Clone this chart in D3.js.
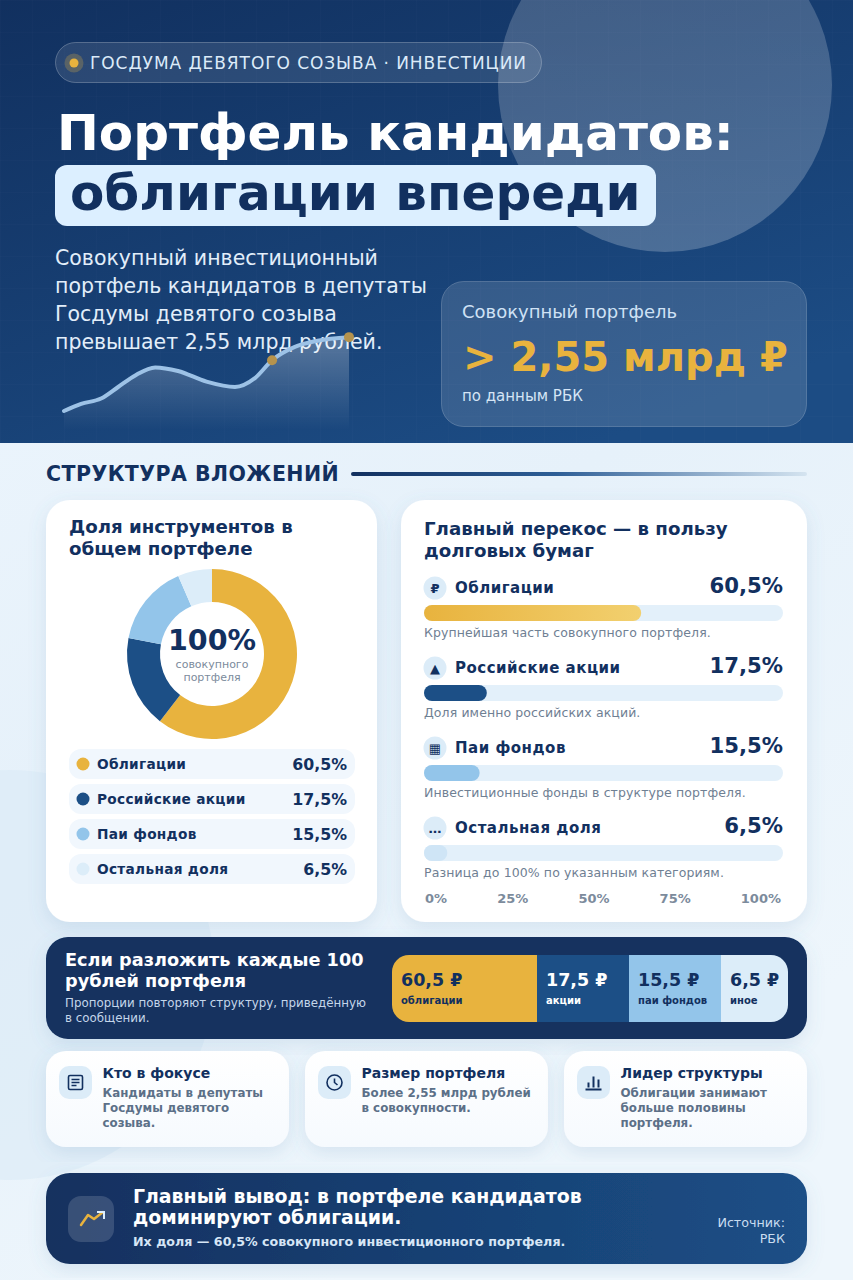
<!DOCTYPE html>
<html lang="ru">
<head>
<meta charset="utf-8">
<title>Портфель кандидатов</title>
<script src="https://cdn.jsdelivr.net/npm/d3@7"></script>
<style>
  html, body { margin: 0; padding: 0; background: #eef6fd; }
  svg { display: block; }
  text { font-family: "DejaVu Sans", sans-serif; }
  .b { font-weight: 700; }
</style>
</head>
<body>
<svg id="chart" width="853" height="1280" viewBox="0 0 853 1280"></svg>
<script>
// Values
var instruments = ["Облигации", "Российские акции", "Паи фондов", "Остальная доля"];
var shares = [60.5, 17.5, 15.5, 6.5];
var shareLabels = ["60,5%", "17,5%", "15,5%", "6,5%"];
var shareNotes = [
  "Крупнейшая часть совокупного портфеля.",
  "Доля именно российских акций.",
  "Инвестиционные фонды в структуре портфеля.",
  "Разница до 100% по указанным категориям."
];
var rowGlyphs = ["₽", "▲", "▦", "…"];
var axisTicks = ["0%", "25%", "50%", "75%", "100%"];
var rubleLabels = ["60,5 ₽", "17,5 ₽", "15,5 ₽", "6,5 ₽"];
var rubleNames = ["облигации", "акции", "паи фондов", "иное"];
// decorative curve in the header, relative units
var sparkSteps = [0, 6, 13, 19, 25, 32, 40, 50, 60, 67, 73, 81, 89, 100];
var sparkValues = [0, 8, 14, 27, 40, 49, 45, 33, 27, 37, 57, 72, 79, 83];
var facts = [
  { title: "Кто в фокусе", lines: ["Кандидаты в депутаты", "Госдумы девятого", "созыва."] },
  { title: "Размер портфеля", lines: ["Более 2,55 млрд рублей", "в совокупности."] },
  { title: "Лидер структуры", lines: ["Облигации занимают", "больше половины", "портфеля."] }
];

var navy = "#12305f", gold = "#e8b33e", gray = "#6f8093";
var color = d3.scaleOrdinal().domain(instruments).range([gold, "#1c4f86", "#93c5ea", "#dcedf9"]);
var svg = d3.select("#chart");
var defs = svg.append("defs");

function gradient(id, stops, x2, y2) {
  var g = defs.append("linearGradient").attr("id", id)
    .attr("x1", 0).attr("y1", 0).attr("x2", x2).attr("y2", y2);
  stops.forEach(function(s) {
    g.append("stop").attr("offset", s[0]).attr("stop-color", s[1]).attr("stop-opacity", s[2] === undefined ? 1 : s[2]);
  });
}
gradient("heroBg", [[0, "#11305f"], [1, "#1c4c84"]], 0.7, 1);
gradient("pageBg", [[0, "#eff7fe"], [0.55, "#e6f1fa"], [1, "#eef6fc"]], 0.4, 1);
gradient("blob", [[0, "#ffffff", 0.18], [1, "#ffffff", 0.22]], 0, 1);
gradient("sparkFill", [[0, "#ffffff", 0.28], [1, "#ffffff", 0]], 0, 1);
gradient("rule", [[0, navy], [0.45, "#2d5e96"], [1, "#d5e4f0"]], 1, 0);
gradient("goldBar", [[0, "#e8b33e"], [1, "#f2d06f"]], 1, 0);
gradient("banner", [[0, navy], [1, "#1c4f86"]], 1, 0);
gradient("factBg", [[0, "#ffffff"], [1, "#f6fafe"]], 0, 1);

var shadow = defs.append("filter").attr("id", "shadow")
  .attr("x", "-10%").attr("y", "-10%").attr("width", "120%").attr("height", "125%");
shadow.append("feDropShadow").attr("dx", 0).attr("dy", 6).attr("stdDeviation", 9)
  .attr("flood-color", "#5b86b0").attr("flood-opacity", 0.16);

var grid = defs.append("pattern").attr("id", "grid").attr("patternUnits", "userSpaceOnUse")
  .attr("width", 32).attr("height", 32);
grid.append("path").attr("d", "M32,0H0V32").attr("fill", "none")
  .attr("stroke", "#ffffff").attr("stroke-opacity", 0.025);

function rect(parent, x, y, w, h, r, fill) {
  return parent.append("rect").attr("x", x).attr("y", y).attr("width", w).attr("height", h)
    .attr("rx", r).attr("ry", r).attr("fill", fill);
}
function label(parent, str, x, y, size, fill, bold, anchor, spacing) {
  return parent.append("text").attr("x", x).attr("y", y).attr("font-size", size).attr("fill", fill)
    .attr("class", bold ? "b" : null).attr("text-anchor", anchor || "start")
    .attr("letter-spacing", spacing || null).text(str);
}
function lines(parent, list, x, y, step, size, fill, bold, anchor, spacing) {
  list.forEach(function(str, i) {
    label(parent, str, x, y + i * step, size, fill, bold, anchor, spacing);
  });
}

// Page background with the soft circles behind the cards
rect(svg, 0, 0, 853, 1280, 0, "url(#pageBg)");
svg.append("circle").attr("cx", 10).attr("cy", 975).attr("r", 205).attr("fill", "#d9e9f5").attr("opacity", 0.55);

// ---- Header ----
var hero = svg.append("g");
rect(hero, 0, 0, 853, 443, 0, "url(#heroBg)");
rect(hero, 0, 0, 853, 443, 0, "url(#grid)");
hero.append("circle").attr("cx", 665).attr("cy", 85).attr("r", 167).attr("fill", "url(#blob)");

rect(hero, 55.5, 42.5, 486, 40, 20, "#ffffff").attr("fill-opacity", 0.1)
  .attr("stroke", "#ffffff").attr("stroke-opacity", 0.25);
hero.append("circle").attr("cx", 74).attr("cy", 63).attr("r", 9.5).attr("fill", gold).attr("opacity", 0.25);
hero.append("circle").attr("cx", 74).attr("cy", 63).attr("r", 4.5).attr("fill", gold);
label(hero, "ГОСДУМА ДЕВЯТОГО СОЗЫВА · ИНВЕСТИЦИИ", 90, 69, 17, "#dcebf9", false, "start", 0.93);

label(hero, "Портфель кандидатов:", 57, 150, 50, "#ffffff", true);
rect(hero, 55, 165, 601, 61, 12, "#dcefff");
label(hero, "облигации впереди", 70, 210, 50, navy, true);

lines(hero, ["Совокупный инвестиционный", "портфель кандидатов в депутаты", "Госдумы девятого созыва", "превышает 2,55 млрд рублей."],
  55, 265, 28, 20.5, "#e2eefa");

// curve
var sparkX = d3.scaleLinear().domain([0, 100]).range([64, 349]);
var sparkY = d3.scaleLinear().domain([0, 100]).range([411, 322]);
var sparkBase = 430;
var sparkArea = d3.area().x(function(d) { return sparkX(d[0]); }).y0(sparkBase)
  .y1(function(d) { return sparkY(d[1]); }).curve(d3.curveMonotoneX);
var sparkLine = sparkArea.lineY1();
var sparkData = d3.zip(sparkSteps, sparkValues);
hero.append("path").datum(sparkData).attr("d", sparkArea).attr("fill", "url(#sparkFill)");
hero.append("path").datum(sparkData).attr("d", sparkLine).attr("fill", "none")
  .attr("stroke", "#9dc2e6").attr("stroke-width", 4).attr("stroke-linecap", "round");
hero.selectAll("circle.mark").data([sparkData[10], sparkData[13]]).enter().append("circle")
  .attr("class", "mark")
  .attr("cx", function(d) { return sparkX(d[0]); })
  .attr("cy", function(d) { return sparkY(d[1]); })
  .attr("r", 5).attr("fill", "#b5934d");

// total card
rect(hero, 441.5, 281.5, 365, 145, 22, "#ffffff").attr("fill-opacity", 0.13)
  .attr("stroke", "#ffffff").attr("stroke-opacity", 0.2);
label(hero, "Совокупный портфель", 462, 318, 18, "#cfe2f5");
label(hero, "> 2,55 млрд ₽", 463, 371, 40, gold, true);
label(hero, "по данным РБК", 462, 401, 15, "#d5e5f5");

// ---- Section title ----
label(svg, "СТРУКТУРА ВЛОЖЕНИЙ", 46, 481, 20.5, navy, true, "start", 0.45);
rect(svg, 351, 472, 456, 4, 2, "url(#rule)");

// ---- Donut card ----
var left = svg.append("g");
rect(left, 46, 500, 331, 422, 24, "#ffffff").attr("filter", "url(#shadow)");
lines(left, ["Доля инструментов в", "общем портфеле"], 69, 533, 22, 18.2, navy, true);

var pie = d3.pie().sort(null).value(function(d) { return d.value; });
var arc = d3.arc().innerRadius(52).outerRadius(85);
var donutData = instruments.map(function(name, i) { return { name: name, value: shares[i] }; });
var donut = left.append("g").attr("transform", "translate(212,654)");
donut.selectAll("path").data(pie(donutData)).enter().append("path")
  .attr("d", arc)
  .attr("fill", function(d) { return color(d.data.name); });
label(donut, "100%", 0, -4, 28.5, navy, true, "middle");
lines(donut, ["совокупного", "портфеля"], 0, 14, 13, 11, "#7c8b9c", false, "middle");

var legendY = d3.scalePoint().domain(instruments).range([764, 869]);
var legend = left.selectAll("g.legend").data(donutData).enter().append("g").attr("class", "legend")
  .attr("transform", function(d) { return "translate(0," + legendY(d.name) + ")"; });
legend.append("rect").attr("x", 69).attr("y", -15).attr("width", 286).attr("height", 30)
  .attr("rx", 12).attr("fill", "#f1f7fd");
legend.append("circle").attr("cx", 83).attr("cy", 0).attr("r", 6.5)
  .attr("fill", function(d) { return color(d.name); });
legend.append("text").attr("x", 97).attr("y", 5).attr("class", "b").attr("font-size", 13.7)
  .attr("letter-spacing", 0.3).attr("fill", navy).text(function(d) { return d.name; });
legend.append("text").attr("x", 347).attr("y", 6).attr("class", "b").attr("font-size", 15.8)
  .attr("text-anchor", "end").attr("fill", navy).text(function(d, i) { return shareLabels[i]; });

// ---- Bars card ----
var right = svg.append("g");
rect(right, 401, 500, 406, 422, 24, "#ffffff").attr("filter", "url(#shadow)");
lines(right, ["Главный перекос — в пользу", "долговых бумаг"], 424, 535, 22, 18.2, navy, true);

var barX = d3.scaleLinear().domain([0, 100]).range([424, 783]);
var rowY = d3.scaleBand().domain(instruments).range([588, 908]);
var rows = right.selectAll("g.row").data(donutData).enter().append("g").attr("class", "row")
  .attr("transform", function(d) { return "translate(0," + rowY(d.name) + ")"; });
rows.append("circle").attr("cx", 435).attr("cy", 0).attr("r", 11.5).attr("fill", "#dcecf8");
rows.append("text").attr("x", 435).attr("y", 5).attr("class", "b").attr("font-size", 13)
  .attr("text-anchor", "middle").attr("fill", navy).text(function(d, i) { return rowGlyphs[i]; });
rows.append("text").attr("x", 455).attr("y", 5).attr("class", "b").attr("font-size", 15)
  .attr("letter-spacing", 0.5).attr("fill", navy).text(function(d) { return d.name; });
rows.append("text").attr("x", 783).attr("y", 5).attr("class", "b").attr("font-size", 21.2)
  .attr("text-anchor", "end").attr("fill", navy).text(function(d, i) { return shareLabels[i]; });
rows.append("rect").attr("x", barX(0)).attr("y", 17).attr("width", barX(100) - barX(0)).attr("height", 16)
  .attr("rx", 8).attr("fill", "#e3f0fa");
rows.append("rect").attr("x", barX(0)).attr("y", 17)
  .attr("width", function(d) { return barX(d.value) - barX(0); }).attr("height", 16).attr("rx", 8)
  .attr("fill", function(d, i) { return i === 0 ? "url(#goldBar)" : i === 3 ? "#cfe5f6" : color(d.name); });
rows.append("text").attr("x", 424).attr("y", 49).attr("font-size", 12.5).attr("letter-spacing", 0.1)
  .attr("fill", gray).text(function(d, i) { return shareNotes[i]; });

// tick labels are spread edge to edge, so measure them first
var tickText = right.selectAll("text.tick").data(axisTicks).enter().append("text").attr("class", "tick b")
  .attr("y", 903).attr("font-size", 13).attr("fill", "#7c8b9c").text(function(d) { return d; });
var tickWidths = tickText.nodes().map(function(n) { return n.getComputedTextLength(); });
var tickGap = (781 - 425 - d3.sum(tickWidths)) / (axisTicks.length - 1);
tickText.attr("x", function(d, i) {
  return 425 + d3.sum(tickWidths.slice(0, i)) + i * tickGap;
});

// ---- 100 rubles band ----
var band = svg.append("g");
rect(band, 46, 937, 761, 102, 22, navy).attr("filter", "url(#shadow)");
lines(band, ["Если разложить каждые 100", "рублей портфеля"], 65, 966, 21, 17.7, "#ffffff", true);
lines(band, ["Пропорции повторяют структуру, приведённую", "в сообщении."], 65, 1007, 15, 11.85, "#c4d6ea");

// widths in the picture are not proportional to the share
var segWidth = d3.scaleLinear().domain([6.5, 15.5, 17.5, 60.5]).range([67, 92, 92, 145]);
var segStart = d3.cumsum(shares.map(segWidth));
defs.append("clipPath").attr("id", "segClip").call(function(c) { rect(c, 392, 955, 396, 67, 17, "#000"); });
var segGroup = band.append("g").attr("clip-path", "url(#segClip)");
var segs = segGroup.selectAll("g").data(shares).enter().append("g")
  .attr("transform", function(d, i) { return "translate(" + (392 + segStart[i] - segWidth(d)) + ",955)"; });
segs.append("rect").attr("width", function(d) { return segWidth(d); }).attr("height", 67)
  .attr("fill", function(d, i) { return color(instruments[i]); });
segs.append("text").attr("x", 9).attr("y", 31).attr("class", "b").attr("font-size", 17.5)
  .attr("fill", function(d, i) { return i === 1 ? "#ffffff" : navy; })
  .text(function(d, i) { return rubleLabels[i]; });
segs.append("text").attr("x", 9).attr("y", 49).attr("class", "b").attr("font-size", 10)
  .attr("fill", function(d, i) { return i === 1 ? "#ffffff" : navy; })
  .text(function(d, i) { return rubleNames[i]; });

// ---- Three small cards ----
var factX = d3.scaleBand().domain(d3.range(facts.length)).range([46, 823]);
var factCards = svg.selectAll("g.fact").data(facts).enter().append("g").attr("class", "fact")
  .attr("transform", function(d, i) { return "translate(" + factX(i) + ",1051)"; });
factCards.append("rect").attr("width", 243).attr("height", 96).attr("rx", 20)
  .attr("fill", "url(#factBg)").attr("filter", "url(#shadow)");
factCards.append("rect").attr("x", 13).attr("y", 15).attr("width", 33).attr("height", 33).attr("rx", 10)
  .attr("fill", "#dcecf8");
factCards.each(function(d, i) {
  var g = d3.select(this);
  label(g, d.title, 56.5, 27, 14, navy, true);
  lines(g, d.lines, 56.5, 46, 15, 11.85, "#5c7088", true);
  var ic = g.append("g").attr("transform", "translate(29.5,31.5)").attr("fill", "none")
    .attr("stroke", navy).attr("stroke-width", 1.6);
  if (i === 0) {
    ic.append("rect").attr("x", -7).attr("y", -7).attr("width", 14).attr("height", 14).attr("rx", 1.5);
    ic.append("path").attr("d", "M-4,-3H4M-4,0H4M-4,3H1");
  } else if (i === 1) {
    ic.append("circle").attr("r", 7.5);
    ic.append("path").attr("d", "M0,-4V0L3,2.5");
  } else {
    ic.append("path").attr("d", "M-8,7H8M-5,5V0M0,5V-6M5,5V-3").attr("stroke-width", 2);
  }
});

// ---- Conclusion banner ----
var foot = svg.append("g");
rect(foot, 46, 1173, 761, 91, 24, "url(#banner)").attr("filter", "url(#shadow)");
rect(foot, 68, 1196, 46, 46, 13, "#ffffff").attr("fill-opacity", 0.15);
foot.append("path").attr("d", "M81,1225L88,1215L94,1219L103,1212").attr("fill", "none")
  .attr("stroke", gold).attr("stroke-width", 2.5).attr("stroke-linecap", "round").attr("stroke-linejoin", "round");
foot.append("path").attr("d", "M97,1212H104V1219").attr("fill", "none")
  .attr("stroke", "#dcefff").attr("stroke-width", 2);
lines(foot, ["Главный вывод: в портфеле кандидатов", "доминируют облигации."], 133, 1203, 21, 18.9, "#ffffff", true);
label(foot, "Их доля — 60,5% совокупного инвестиционного портфеля.", 133, 1246, 12.65, "#d6e6f6", true);
lines(foot, ["Источник:", "РБК"], 785, 1227, 16, 12.7, "#c9dcf0", false, "end");
</script>
</body>
</html>
